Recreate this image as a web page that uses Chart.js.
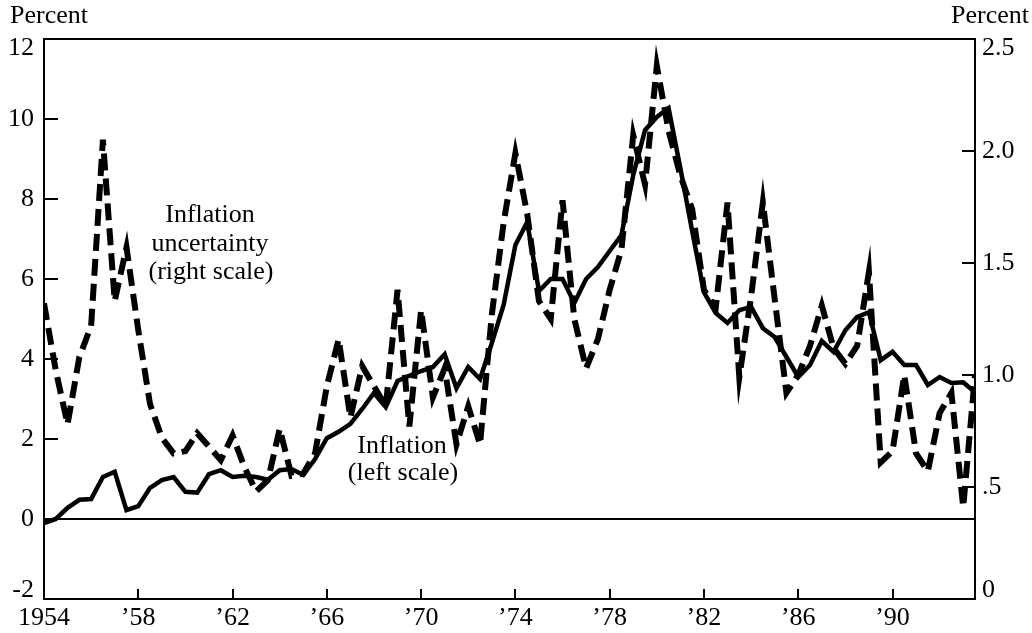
<!DOCTYPE html>
<html>
<head>
<meta charset="utf-8">
<title>Inflation and inflation uncertainty</title>
<script src="https://cdn.jsdelivr.net/npm/chart.js@4.4.1/dist/chart.umd.min.js"></script>
<style>
  html, body { margin: 0; padding: 0; background: #fff; }
  #wrap { width: 1032px; height: 633px; }
</style>
</head>
<body>
<div id="wrap"><canvas id="chart" width="1032" height="633"></canvas></div>
<script>
// half-year periods, 1954 to mid-1993
var periods = [
  1954, 1954.5, 1955, 1955.5, 1956, 1956.5, 1957, 1957.5, 1958, 1958.5,
  1959, 1959.5, 1960, 1960.5, 1961, 1961.5, 1962, 1962.5, 1963, 1963.5,
  1964, 1964.5, 1965, 1965.5, 1966, 1966.5, 1967, 1967.5, 1968, 1968.5,
  1969, 1969.5, 1970, 1970.5, 1971, 1971.5, 1972, 1972.5, 1973, 1973.5,
  1974, 1974.5, 1975, 1975.5, 1976, 1976.5, 1977, 1977.5, 1978, 1978.5,
  1979, 1979.5, 1980, 1980.5, 1981, 1981.5, 1982, 1982.5, 1983, 1983.5,
  1984, 1984.5, 1985, 1985.5, 1986, 1986.5, 1987, 1987.5, 1988, 1988.5,
  1989, 1989.5, 1990, 1990.5, 1991, 1991.5, 1992, 1992.5, 1993, 1993.5
];

// inflation, percent (left scale)
var inflation = [
  -0.1, 0.0, 0.28, 0.48, 0.5, 1.05, 1.18, 0.22, 0.32, 0.78,
  0.97, 1.05, 0.68, 0.66, 1.12, 1.22, 1.05, 1.08, 1.05, 0.98,
  1.22, 1.25, 1.1, 1.5, 2.02, 2.18, 2.38, 2.75, 3.15, 2.8,
  3.45, 3.58, 3.7, 3.8, 4.12, 3.27, 3.8, 3.5, 4.4, 5.35,
  6.85, 7.42, 5.7, 6.0, 6.0, 5.4, 6.0, 6.3, 6.7, 7.1,
  8.6, 9.72, 10.05, 10.27, 8.77, 7.2, 5.67, 5.15, 4.9, 5.22,
  5.3, 4.77, 4.55, 4.05, 3.55, 3.85, 4.45, 4.18, 4.72, 5.05,
  5.17, 3.97, 4.18, 3.85, 3.85, 3.35, 3.55, 3.4, 3.42, 3.17
];

// inflation uncertainty, percent (right scale)
var uncertainty = [
  1.32, 1.02, 0.78, 1.08, 1.22, 2.05, 1.33, 1.57, 1.2, 0.87,
  0.72, 0.65, 0.66, 0.74, 0.68, 0.62, 0.73, 0.59, 0.48, 0.53,
  0.76, 0.55, 0.56, 0.65, 0.95, 1.16, 0.81, 1.04, 0.95, 0.86,
  1.38, 0.77, 1.29, 0.9, 1.03, 0.69, 0.86, 0.69, 1.27, 1.68,
  1.99, 1.72, 1.33, 1.25, 1.78, 1.25, 1.03, 1.16, 1.38, 1.56,
  2.07, 1.85, 2.38, 2.09, 1.89, 1.74, 1.38, 1.3, 1.77, 0.99,
  1.35, 1.77, 1.34, 0.92, 1.0, 1.13, 1.31, 1.12, 1.05, 1.13,
  1.46, 0.61, 0.66, 1.0, 0.65, 0.57, 0.83, 0.92, 0.41, 1.0
];

var yearTicks = [1954, 1958, 1962, 1966, 1970, 1974, 1978, 1982, 1986, 1990];
var leftTicks = [-2, 0, 2, 4, 6, 8, 10, 12];
var rightTicks = [0, 0.5, 1.0, 1.5, 2.0, 2.5];

var FONT_FAMILY = '"Liberation Serif", "Times New Roman", serif';
var FONT_SIZE = 26;

function pairs(ys) {
    return ys.map(function (v, i) { return { x: periods[i], y: v }; });
}

function fixTicks(list) {
    return function (scale) {
        scale.ticks = list.map(function (v) { return { value: v }; });
    };
}

// labels at the ends of a vertical axis sit a little inside the frame
function endLabel(text, v, lo, hi) {
    if (v === hi) return ['', text];
    if (v === lo) return [text, ''];
    return text;
}

function tickFont(lo, hi) {
    return function (c) {
        var v = c.tick ? c.tick.value : null;
        var edge = v === lo || v === hi;
        return { family: FONT_FAMILY, size: FONT_SIZE, lineHeight: edge ? '18px' : 1.2 };
    };
}

// frame, inward tick marks and the text labels
var decor = {
    id: 'decor',
    afterDraw: function (chart) {
        var ctx = chart.ctx, a = chart.chartArea;
        var sx = chart.scales.x, sy = chart.scales.y, sy2 = chart.scales.y2;
        ctx.save();
        ctx.strokeStyle = '#000';
        ctx.lineWidth = 2;
        ctx.strokeRect(a.left, a.top, a.right - a.left, a.bottom - a.top);

        ctx.beginPath();
        sx.ticks.forEach(function (t) {
            if (t.value <= sx.min) return;
            var px = Math.round(sx.getPixelForValue(t.value));
            ctx.moveTo(px, a.bottom); ctx.lineTo(px, a.bottom - 10);
        });
        sy.ticks.forEach(function (t) {
            if (t.value <= sy.min || t.value >= sy.max || t.value === 0) return;
            var py = Math.round(sy.getPixelForValue(t.value));
            ctx.moveTo(a.left, py); ctx.lineTo(a.left + 14, py);
        });
        sy2.ticks.forEach(function (t) {
            if (t.value <= sy2.min || t.value >= sy2.max) return;
            var py = Math.round(sy2.getPixelForValue(t.value));
            ctx.moveTo(a.right, py); ctx.lineTo(a.right - 13, py);
        });
        ctx.stroke();

        ctx.fillStyle = '#000';
        ctx.font = FONT_SIZE + 'px ' + FONT_FAMILY;
        ctx.textBaseline = 'alphabetic';
        ctx.textAlign = 'left';
        ctx.fillText('Percent', 10, 23);
        ctx.textAlign = 'right';
        ctx.fillText('Percent', 1029, 23);
        ctx.textAlign = 'center';
        ctx.fillText('Inflation', 210, 222);
        ctx.fillText('uncertainty', 210, 251);
        ctx.fillText('(right scale)', 211, 279);
        ctx.fillText('Inflation', 402, 453);
        ctx.fillText('(left scale)', 403, 480);
        ctx.restore();
    }
};

new Chart(document.getElementById('chart'), {
    type: 'line',
    data: {
        datasets: [
            {
                label: 'Inflation uncertainty (right scale)',
                data: pairs(uncertainty),
                yAxisID: 'y2',
                borderColor: '#000',
                borderWidth: 6,
                borderDash: [17, 8],
                borderJoinStyle: 'miter',
                borderCapStyle: 'butt',
                pointRadius: 0,
                tension: 0,
                fill: false
            },
            {
                label: 'Inflation (left scale)',
                data: pairs(inflation),
                yAxisID: 'y',
                borderColor: '#000',
                borderWidth: 4.5,
                borderJoinStyle: 'miter',
                pointRadius: 0,
                tension: 0,
                fill: false
            }
        ]
    },
    options: {
        responsive: false,
        animation: false,
        events: [],
        layout: { padding: { top: 39, left: 0, right: 0, bottom: 0 } },
        plugins: { legend: { display: false }, tooltip: { enabled: false } },
        scales: {
            x: {
                type: 'linear',
                min: 1954,
                max: 1993.5,
                afterBuildTicks: fixTicks(yearTicks),
                afterFit: function (s) { s.height = 34; },
                grid: { display: false, drawTicks: false },
                border: { display: false },
                ticks: {
                    autoSkip: false, maxRotation: 0, padding: 4, color: '#000',
                    font: { family: FONT_FAMILY, size: FONT_SIZE },
                    callback: function (v) { return v === 1954 ? '1954' : '\u2019' + String(v).slice(2); }
                }
            },
            y: {
                position: 'left',
                min: -2,
                max: 12,
                afterBuildTicks: fixTicks(leftTicks),
                afterFit: function (s) { s.width = 44; },
                grid: {
                    drawTicks: false,
                    lineWidth: 2,
                    color: function (c) { return c.tick && c.tick.value === 0 ? '#000' : 'rgba(0,0,0,0)'; }
                },
                border: { display: false },
                ticks: {
                    padding: 10, color: '#000',
                    font: tickFont(-2, 12),
                    callback: function (v) { return endLabel(String(v), v, -2, 12); }
                }
            },
            y2: {
                position: 'right',
                min: 0,
                max: 2.5,
                afterBuildTicks: fixTicks(rightTicks),
                afterFit: function (s) { s.width = 57; },
                grid: { display: false, drawTicks: false, drawOnChartArea: false },
                border: { display: false },
                ticks: {
                    padding: 7, color: '#000',
                    font: tickFont(0, 2.5),
                    callback: function (v) {
                        var t = v === 0 ? '0' : v === 0.5 ? '.5' : v.toFixed(1);
                        return endLabel(t, v, 0, 2.5);
                    }
                }
            }
        }
    },
    plugins: [decor]
});
</script>
</body>
</html>
